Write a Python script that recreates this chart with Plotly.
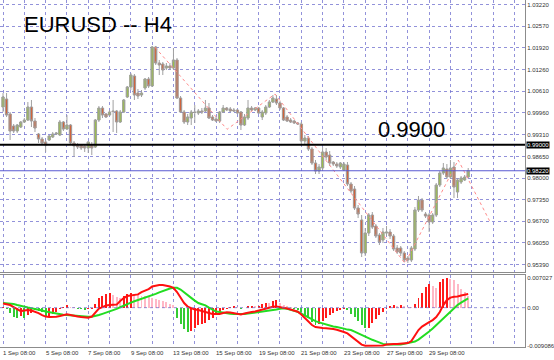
import plotly.graph_objects as go

# ---------------- data ----------------
date_labels = ["1 Sep 08:00", "5 Sep 08:00", "7 Sep 08:00", "9 Sep 08:00", "13 Sep 08:00",
               "15 Sep 08:00", "19 Sep 08:00", "21 Sep 08:00", "23 Sep 08:00", "27 Sep 08:00",
               "29 Sep 08:00"]
date_label_bars = [0, 12, 24, 36, 48, 60, 72, 84, 96, 108, 120]

opens = [
    1.00140, 1.00381, 0.99929, 0.99567, 0.99417, 0.99537, 0.99688, 0.99748, 1.00140, 0.99718,
    0.99327, 0.99176, 0.99086, 0.99146, 0.99236, 0.99327, 0.99296, 0.99688, 0.99477, 0.99598,
    0.99056, 0.98995, 0.98995, 0.98965, 0.98905, 0.98995, 0.98935, 0.99748, 1.00110, 0.99929,
    0.99899, 1.00019, 1.00019, 0.99688, 0.99989, 1.00441, 1.00742, 1.01073, 1.00561, 1.00501,
    1.00712, 1.00983, 1.00772, 1.01947, 1.01465, 1.01435, 1.01314, 1.01374, 1.01314, 1.01555,
    1.00411, 0.99989, 0.99688, 0.99808, 0.99989, 0.99959, 1.00019, 1.00019, 1.00110, 0.99839,
    0.99778, 0.99718, 0.99989, 1.00110, 1.00080, 1.00050, 1.00050, 0.99989, 0.99598, 0.99808,
    1.00110, 1.00050, 1.00110, 0.99839, 0.99959, 1.00140, 1.00290, 1.00381, 1.00260, 1.00110,
    0.99839, 0.99748, 0.99718, 0.99658, 0.99628, 0.99116, 0.99206, 0.98875, 0.98453, 0.98212,
    0.98303, 0.98785, 0.98694, 0.98483, 0.98423, 0.98333, 0.98243, 0.98393, 0.97821, 0.97670,
    0.97098, 0.96737, 0.95743, 0.96345, 0.96887, 0.96556, 0.96285, 0.96135, 0.96345, 0.96375,
    0.96255, 0.95894, 0.95894, 0.95743, 0.95593, 0.95532, 0.95864, 0.97038, 0.97339, 0.96917,
    0.96887, 0.96676, 0.96887, 0.97791, 0.98152, 0.98273, 0.98032, 0.98333, 0.97580, 0.97881,
    0.97942, 0.98032]
highs = [
    1.00561, 1.00561, 0.99989, 0.99628, 0.99628, 0.99718, 0.99808, 1.00290, 1.00351, 0.99808,
    0.99357, 0.99236, 0.99146, 0.99296, 0.99387, 0.99387, 0.99748, 0.99718, 0.99899, 0.99628,
    0.99116, 0.99056, 0.99025, 0.98995, 0.99116, 0.99086, 0.99778, 1.00170, 1.00170, 0.99959,
    1.00050, 1.00351, 1.00050, 1.00050, 1.00381, 1.00772, 1.01164, 1.01133, 1.00682, 1.00652,
    1.01013, 1.01043, 1.01977, 1.01977, 1.01555, 1.01495, 1.01465, 1.01465, 1.01916, 1.01615,
    1.00471, 1.00050, 0.99929, 1.00050, 1.00200, 1.00080, 1.00110, 1.00351, 1.00260, 0.99899,
    0.99839, 1.00019, 1.00200, 1.00140, 1.00140, 1.00110, 1.00080, 1.00019, 0.99929, 1.00351,
    1.00170, 1.00140, 1.00140, 1.00050, 1.00200, 1.00351, 1.00501, 1.00501, 1.00320, 1.00140,
    0.99899, 0.99808, 0.99748, 0.99688, 0.99688, 0.99296, 0.99266, 0.98935, 0.98544, 0.98423,
    0.98935, 0.98905, 0.98815, 0.98514, 0.98483, 0.98483, 0.98483, 0.98483, 0.97881, 0.97761,
    0.97189, 0.96887, 0.96496, 0.96948, 0.96978, 0.96616, 0.96345, 0.96496, 0.96556, 0.96466,
    0.96315, 0.95984, 0.95954, 0.95803, 0.95653, 0.95954, 0.97128, 0.97460, 0.97400, 0.96978,
    0.96948, 0.96948, 0.97851, 0.98212, 0.98453, 0.98423, 0.98544, 0.98483, 0.98002, 0.98062,
    0.98092, 0.98303]
lows = [
    0.99989, 0.99839, 0.99146, 0.99357, 0.99357, 0.99507, 0.99658, 0.99718, 0.99537, 0.99387,
    0.99056, 0.98995, 0.98785, 0.99116, 0.99206, 0.99296, 0.99266, 0.99417, 0.99447, 0.98995,
    0.98634, 0.98875, 0.98845, 0.98785, 0.98754, 0.98694, 0.98905, 0.99688, 0.99808, 0.99808,
    0.99869, 0.99387, 0.99357, 0.99658, 0.99959, 1.00411, 1.00652, 1.00351, 1.00381, 1.00441,
    1.00652, 1.00712, 1.00742, 1.01405, 1.01103, 1.01103, 1.01254, 1.01254, 1.01254, 1.00381,
    0.99959, 0.99628, 0.99598, 0.99598, 0.99658, 0.99899, 0.99929, 0.99989, 0.99778, 0.99718,
    0.99688, 0.99658, 0.99959, 1.00019, 0.99989, 0.99989, 0.99929, 0.99447, 0.99567, 0.99748,
    1.00019, 1.00019, 0.99929, 0.99748, 0.99899, 1.00110, 1.00260, 1.00200, 1.00050, 0.99718,
    0.99688, 0.99658, 0.99628, 0.99598, 0.98965, 0.98995, 0.98815, 0.98393, 0.98122, 0.98122,
    0.98212, 0.98544, 0.98363, 0.98363, 0.98303, 0.98273, 0.98212, 0.97761, 0.97550, 0.97038,
    0.96797, 0.95623, 0.95653, 0.96255, 0.96466, 0.96195, 0.95984, 0.96044, 0.96255, 0.96165,
    0.95803, 0.95713, 0.95653, 0.95472, 0.95442, 0.95472, 0.95803, 0.96978, 0.96978, 0.96797,
    0.96375, 0.96616, 0.96827, 0.97731, 0.98092, 0.97972, 0.97972, 0.97400, 0.97400, 0.97821,
    0.97911, 0.98002]
closes = [
    1.00441, 0.99899, 0.99417, 0.99417, 0.99598, 0.99688, 0.99748, 1.00140, 0.99718, 0.99507,
    0.99176, 0.99056, 0.98995, 0.99266, 0.99327, 0.99357, 0.99688, 0.99477, 0.99598, 0.99056,
    0.98965, 0.98935, 0.98905, 0.98905, 0.99086, 0.98905, 0.99748, 1.00110, 0.99899, 0.99839,
    0.99989, 1.00004, 0.99688, 0.99989, 1.00351, 1.00742, 1.01103, 1.00501, 1.00471, 1.00561,
    1.00983, 1.00772, 1.01947, 1.01465, 1.01405, 1.01254, 1.01374, 1.01314, 1.01555, 1.00411,
    0.99989, 0.99688, 0.99839, 0.99989, 0.99974, 1.00019, 0.99989, 1.00110, 0.99808, 0.99748,
    0.99718, 0.99989, 1.00110, 1.00050, 1.00019, 1.00019, 0.99959, 0.99598, 0.99839, 1.00110,
    1.00050, 1.00110, 0.99959, 0.99989, 1.00140, 1.00290, 1.00411, 1.00260, 1.00110, 0.99748,
    0.99718, 0.99688, 0.99658, 0.99628, 0.99116, 0.99206, 0.98875, 0.98453, 0.98212, 0.98333,
    0.98785, 0.98634, 0.98453, 0.98423, 0.98363, 0.98453, 0.98423, 0.97821, 0.97610, 0.97098,
    0.96917, 0.95743, 0.96345, 0.96887, 0.96526, 0.96255, 0.96074, 0.96375, 0.96375, 0.96255,
    0.95864, 0.95773, 0.95743, 0.95532, 0.95532, 0.95894, 0.97038, 0.97339, 0.97038, 0.96857,
    0.96676, 0.96887, 0.97791, 0.98152, 0.98303, 0.98032, 0.98303, 0.97731, 0.97942, 0.98002,
    0.98032, 0.98220]

# zigzag (bar position, price)
zigzag_bars = [42.8, 63.1, 76.6, 113.2, 128.2, 137.0]
zigzag_prices = [1.01938, 0.99468, 1.00531, 0.95433, 0.98544, 0.96716]

# MACD panel
macd_main = [
    0.00097, 0.00073, 0.00062, 0.00014, -0.00033, -0.00081, -0.00069, -0.00057, -0.00069, -0.00092,
    -0.00128, -0.00175, -0.00211, -0.00223, -0.00223, -0.00216, -0.00199, -0.00175, -0.00159, -0.00175,
    -0.00199, -0.00211, -0.00223, -0.00235, -0.00239, -0.00211, -0.00104, -0.00021, 0.00014, 0.00050,
    0.00062, 0.00062, 0.00073, 0.00156, 0.00228, 0.00275, 0.00287, 0.00299, 0.00315, 0.00370,
    0.00405, 0.00441, 0.00500, 0.00524, 0.00536, 0.00536, 0.00524, 0.00500, 0.00472, 0.00370,
    0.00239, 0.00109, 0.00026, -0.00009, -0.00045, -0.00057, -0.00075, -0.00092, -0.00128, -0.00152,
    -0.00159, -0.00152, -0.00128, -0.00111, -0.00116, -0.00128, -0.00152, -0.00159, -0.00140, -0.00116,
    -0.00104, -0.00092, -0.00069, -0.00033, -0.00017, 0.00002, 0.00021, 0.00026, 0.00014, -0.00002,
    -0.00021, -0.00045, -0.00069, -0.00097, -0.00164, -0.00246, -0.00341, -0.00412, -0.00460, -0.00476,
    -0.00483, -0.00488, -0.00491, -0.00507, -0.00525, -0.00543, -0.00578, -0.00609, -0.00673, -0.00744,
    -0.00815, -0.00875, -0.00903, -0.00904, -0.00906, -0.009086, -0.00907, -0.00898, -0.00875, -0.00863,
    -0.00863, -0.00863, -0.00860, -0.00851, -0.00839, -0.00792, -0.00649, -0.00531, -0.00448, -0.00389,
    -0.00341, -0.00294, -0.00223, -0.00104, 0.00062, 0.00180, 0.00239, 0.00258, 0.00263, 0.00287,
    0.00299, 0.00322]
macd_signal = [
    0.00109, 0.00104, 0.00102, 0.00085, 0.00062, 0.00038, 0.00019, 0.00002, -0.00014, -0.00028,
    -0.00047, -0.00069, -0.00092, -0.00109, -0.00128, -0.00142, -0.00156, -0.00168, -0.00175, -0.00185,
    -0.00194, -0.00204, -0.00213, -0.00216, -0.00218, -0.00216, -0.00199, -0.00175, -0.00147, -0.00121,
    -0.00097, -0.00064, -0.00028, 0.00009, 0.00050, 0.00085, 0.00121, 0.00152, 0.00180, 0.00209,
    0.00235, 0.00258, 0.00292, 0.00327, 0.00363, 0.00398, 0.00429, 0.00453, 0.00469, 0.00472,
    0.00429, 0.00358, 0.00299, 0.00232, 0.00168, 0.00109, 0.00082, 0.00055, 0.00002, -0.00050,
    -0.00092, -0.00104, -0.00121, -0.00135, -0.00142, -0.00149, -0.00154, -0.00159, -0.00152, -0.00140,
    -0.00128, -0.00119, -0.00114, -0.00107, -0.00097, -0.00081, -0.00062, -0.00045, -0.00028, -0.00017,
    -0.00024, -0.00047, -0.00073, -0.00097, -0.00140, -0.00187, -0.00235, -0.00277, -0.00318, -0.00348,
    -0.00377, -0.00405, -0.00427, -0.00448, -0.00460, -0.00472, -0.00496, -0.00520, -0.00531, -0.00567,
    -0.00607, -0.00649, -0.00692, -0.00728, -0.00761, -0.00792, -0.00827, -0.00858, -0.00870, -0.00872,
    -0.00872, -0.00870, -0.00870, -0.00858, -0.00844, -0.00830, -0.00803, -0.00756, -0.00697, -0.00638,
    -0.00566, -0.00495, -0.00412, -0.00334, -0.00246, -0.00164, -0.00081, -0.00009, 0.00062, 0.00121,
    0.00173, 0.00220]
macd_hist = [
    0.00024, -0.00032, -0.00119, -0.00213, -0.00253, -0.00198, -0.00237, -0.00174, -0.00119, -0.00063,
    -0.00079, -0.00111, -0.00205, -0.00190, -0.00158, -0.00095, -0.00040, 0.00024, 0.00063, 0.00024,
    0.00008, -0.00024, -0.00040, -0.00047, -0.00040, -0.00032, 0.00095, 0.00221, 0.00277, 0.00316,
    0.00340, 0.00300, 0.00253, 0.00221, 0.00277, 0.00332, 0.00356, 0.00316, 0.00300, 0.00284,
    0.00277, 0.00261, 0.00237, 0.00213, 0.00190, 0.00158, 0.00126, 0.00095, 0.00063, -0.00237,
    -0.00395, -0.00514, -0.00569, -0.00553, -0.00474, -0.00411, -0.00379, -0.00356, -0.00300, -0.00237,
    -0.00174, -0.00119, -0.00063, -0.00024, 0.00016, 0.00032, 0.00016, -0.00024, -0.00016, 0.00032,
    0.00047, 0.00032, 0.00047, 0.00095, 0.00119, 0.00111, 0.00158, 0.00174, 0.00119, 0.00063,
    0.00032, 0.00016, -0.00024, -0.00055, -0.00095, -0.00174, -0.00253, -0.00332, -0.00411, -0.00395,
    -0.00316, -0.00237, -0.00174, -0.00119, -0.00087, -0.00063, -0.00032, -0.00063, -0.00142, -0.00221,
    -0.00316, -0.00411, -0.00490, -0.00474, -0.00356, -0.00261, -0.00174, -0.00103, -0.00040, 0.00032,
    0.00063, 0.00047, 0.00063, 0.00040, 0.00024, 0.00016, 0.00079, 0.00221, 0.00356, 0.00490,
    0.00553, 0.00506, 0.00474, 0.00600, 0.00679, 0.007027, 0.00679, 0.00664, 0.00553, 0.00450,
    0.00363, 0.00284]

price_ticks = [1.03220, 1.02570, 1.01920, 1.01260, 1.00610, 0.99960, 0.99310,
               0.98650, 0.98000, 0.97350, 0.96700, 0.96050, 0.95390]
level_price = 0.99000
current_price = 0.98220
macd_ticks = [0.007027, 0.0, -0.009086]
macd_tick_text = ["0.007027", "0.00", "-0.009086"]

# ---------------- figure ----------------
n = len(closes)
bars = list(range(n))

GRID = "rgba(110,110,205,0.75)"
AXIS = "#8c8c8c"
WICK = "#a0a0a0"
BULL = "#9ac832"
BEAR = "#e0521e"
TICKFONT = dict(family="Arial, Liberation Sans, sans-serif", size=6, color="#333333")

# candle bodies derived from the OHLC lists
body_base = [min(o, c) for o, c in zip(opens, closes)]
body_len = [abs(c - o) for o, c in zip(opens, closes)]
body_col = [BULL if c >= o else BEAR for o, c in zip(opens, closes)]

hist_colors = []
for i, v in enumerate(macd_hist):
    prev = macd_hist[i - 1] if i > 0 else v
    if v >= 0:
        hist_colors.append("#ff1a1a" if v >= prev else "#ffb8c6")
    else:
        hist_colors.append("#33cc33" if v < prev else "#ff1a1a")

fig = go.Figure()
fig.add_trace(go.Candlestick(
    x=bars, open=opens, high=highs, low=lows, close=closes,
    increasing=dict(line=dict(color=WICK, width=1), fillcolor=BULL),
    decreasing=dict(line=dict(color=WICK, width=1), fillcolor=BEAR),
    whiskerwidth=0, xaxis="x", yaxis="y", hoverinfo="skip"))
fig.add_trace(go.Bar(
    x=bars, y=body_len, base=body_base, width=0.72,
    marker=dict(color=body_col, line=dict(color="#8a8a8a", width=0.5)),
    xaxis="x", yaxis="y", hoverinfo="skip"))
fig.add_trace(go.Scatter(
    x=zigzag_bars, y=zigzag_prices, mode="lines",
    line=dict(color="#ff8c8c", width=1, dash="dot"), xaxis="x", yaxis="y", hoverinfo="skip"))

fig.add_trace(go.Bar(
    x=bars, y=macd_hist, width=0.55, marker=dict(color=hist_colors, line=dict(width=0)),
    xaxis="x2", yaxis="y2", hoverinfo="skip"))
fig.add_trace(go.Scatter(
    x=bars, y=macd_signal, mode="lines", line=dict(color="#22dd22", width=2),
    xaxis="x2", yaxis="y2", hoverinfo="skip"))
fig.add_trace(go.Scatter(
    x=bars, y=macd_main, mode="lines", line=dict(color="#ff1010", width=2),
    xaxis="x2", yaxis="y2", hoverinfo="skip"))

xr = [-0.85, 147.0]
common_x = dict(range=xr, showticklabels=False, ticks="", tick0=0, dtick=6,
                showgrid=True, gridcolor=GRID, griddash="dot", gridwidth=1,
                zeroline=False, showline=True, linecolor=AXIS, linewidth=1)

fig.update_layout(
    width=554, height=360,
    margin=dict(l=0, r=29, t=0, b=13),
    paper_bgcolor="white", plot_bgcolor="white",
    showlegend=False, hovermode=False, bargap=0, barmode="overlay",
    xaxis=dict(domain=[0, 1], anchor="y", rangeslider=dict(visible=False), **common_x),
    xaxis2=dict(domain=[0, 1], anchor="y2", matches="x", mirror=True, **common_x),
    yaxis=dict(domain=[0.2161, 1], range=[0.95171, 1.03362], side="right",
               tickvals=price_ticks, ticktext=[f"{v:.5f}" for v in price_ticks],
               tickfont=TICKFONT, ticks="", showgrid=True, gridcolor=GRID, griddash="dot",
               gridwidth=1, zeroline=False, showline=True, linecolor=AXIS, linewidth=1),
    yaxis2=dict(domain=[0, 0.2075], range=[-0.00932, 0.00774], side="right",
                tickvals=macd_ticks, ticktext=macd_tick_text, tickfont=TICKFONT, ticks="",
                showgrid=False, zeroline=False, showline=True, linecolor=AXIS, linewidth=1),
)

fig.add_shape(type="line", xref="paper", x0=0, x1=1, yref="y", y0=level_price, y1=level_price,
              line=dict(color="black", width=2))
fig.add_shape(type="line", xref="paper", x0=0, x1=1, yref="y", y0=current_price, y1=current_price,
              line=dict(color="#5a5ad2", width=1))
fig.add_shape(type="line", xref="paper", x0=0, x1=1, yref="y2", y0=0, y1=0,
              line=dict(color=GRID, width=1, dash="dot"))

# price boxes on the right axis
for val in (level_price, current_price):
    fig.add_annotation(xref="paper", x=1, xanchor="left", xshift=1, yref="y", y=val,
                       text=f"{val:.5f}", showarrow=False, bgcolor="black",
                       font=dict(family="Arial, Liberation Sans, sans-serif", size=6, color="white"),
                       borderpad=0)

# date labels
for b, lab in zip(date_label_bars, date_labels):
    fig.add_annotation(xref="x", x=b, xanchor="left", xshift=-2, yref="paper", y=0,
                       yanchor="top", yshift=-1, text=lab, showarrow=False,
                       font=TICKFONT)

fig.add_annotation(xref="paper", x=22 / 525, xanchor="left", yref="paper", y=0.928,
                   yanchor="middle", text="EURUSD -- H4", showarrow=False,
                   font=dict(family="Arial, Liberation Sans, sans-serif", size=22, color="black"))
fig.add_annotation(xref="paper", x=411 / 525, xanchor="center", yref="paper", y=0.6254,
                   yanchor="middle", text="0.9900", showarrow=False,
                   font=dict(family="Arial, Liberation Sans, sans-serif", size=22, color="black"))

fig.write_html("out.html", config={"staticPlot": True},
               post_script="document.body.style.margin='0';document.body.style.overflow='hidden';")
